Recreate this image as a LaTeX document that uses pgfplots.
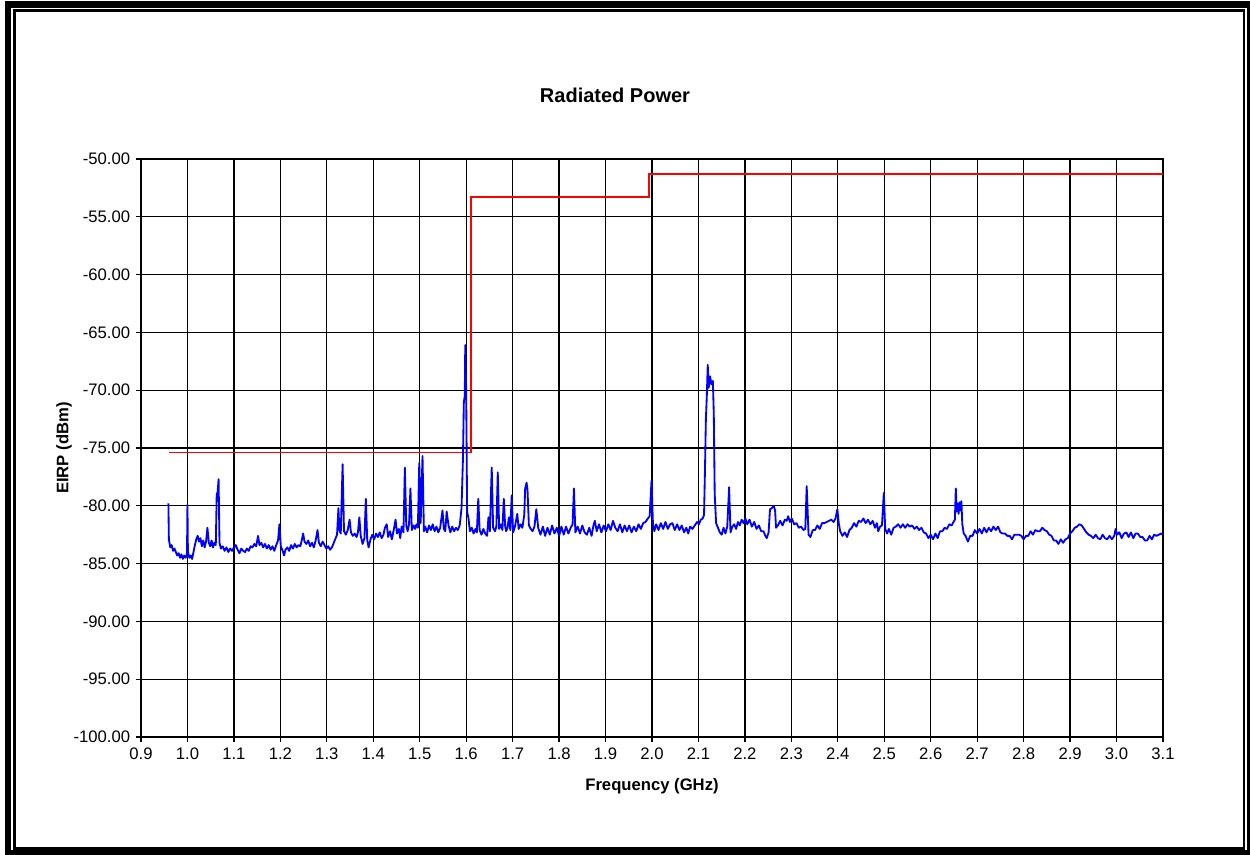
\documentclass[border=0pt]{standalone}
\usepackage{pgfplots}
\usepackage{pgfplotstable}
\pgfplotsset{compat=1.18}
\usepackage{fontspec}
\setmainfont{Liberation Sans}

% measured EIRP trace (GHz, dBm)
\pgfplotstableread{
x y
0.959 -79.8
0.960 -82.9
0.963 -83.6
0.966 -83.4
0.969 -83.9
0.972 -83.7
0.975 -84.0
0.978 -84.3
0.981 -84.1
0.984 -84.5
0.987 -84.2
0.990 -84.6
0.993 -84.3
0.996 -84.5
0.999 -84.2
1.000 -79.9
1.001 -84.0
1.004 -84.5
1.007 -84.3
1.010 -84.6
1.013 -84.0
1.016 -83.4
1.019 -82.9
1.022 -82.6
1.025 -83.1
1.028 -82.8
1.031 -83.5
1.034 -83.0
1.037 -83.6
1.040 -83.1
1.043 -81.9
1.046 -83.2
1.049 -83.5
1.052 -83.0
1.055 -83.6
1.058 -83.2
1.061 -83.4
1.063 -79.0
1.065 -78.8
1.067 -77.7
1.069 -83.2
1.072 -83.7
1.076 -83.5
1.080 -83.9
1.084 -83.6
1.088 -84.0
1.092 -83.7
1.096 -83.9
1.100 -83.6
1.104 -83.4
1.108 -83.8
1.112 -84.1
1.116 -83.7
1.120 -83.9
1.124 -84.0
1.128 -83.7
1.132 -83.9
1.136 -83.5
1.140 -83.6
1.144 -83.3
1.148 -83.5
1.152 -82.6
1.155 -83.4
1.159 -83.2
1.163 -83.6
1.167 -83.3
1.171 -83.7
1.175 -83.4
1.179 -83.8
1.183 -83.5
1.187 -83.9
1.191 -83.4
1.195 -83.0
1.198 -81.6
1.201 -83.5
1.205 -83.9
1.208 -84.3
1.211 -83.8
1.215 -83.6
1.219 -83.9
1.223 -83.4
1.227 -83.7
1.231 -83.3
1.235 -83.6
1.239 -83.4
1.243 -83.5
1.246 -83.0
1.249 -82.4
1.252 -83.1
1.256 -83.3
1.260 -83.0
1.264 -83.5
1.268 -83.2
1.272 -83.6
1.276 -83.0
1.280 -82.1
1.283 -83.2
1.287 -83.5
1.291 -83.1
1.295 -83.4
1.299 -83.7
1.303 -83.5
1.307 -83.8
1.311 -83.6
1.315 -83.2
1.319 -82.8
1.322 -82.5
1.325 -80.2
1.327 -82.1
1.330 -82.4
1.334 -76.4
1.337 -82.2
1.341 -82.5
1.345 -82.1
1.349 -81.2
1.352 -82.3
1.356 -82.6
1.360 -82.4
1.364 -82.7
1.367 -82.3
1.370 -81.0
1.373 -82.6
1.377 -83.3
1.381 -82.8
1.384 -79.4
1.387 -83.0
1.390 -83.6
1.394 -82.9
1.398 -82.5
1.402 -82.9
1.406 -82.4
1.410 -82.7
1.414 -82.3
1.418 -82.8
1.422 -82.5
1.425 -81.9
1.429 -81.6
1.432 -82.7
1.436 -82.2
1.440 -82.9
1.444 -82.1
1.448 -81.2
1.451 -82.4
1.455 -82.0
1.458 -82.8
1.461 -81.8
1.465 -82.3
1.468 -76.7
1.471 -81.7
1.474 -82.2
1.477 -81.6
1.480 -78.5
1.483 -82.1
1.487 -81.7
1.490 -82.0
1.493 -81.6
1.496 -81.9
1.499 -76.3
1.502 -81.5
1.506 -75.7
1.509 -82.2
1.512 -81.8
1.516 -82.3
1.520 -81.7
1.524 -82.1
1.528 -81.6
1.532 -82.2
1.536 -81.8
1.540 -82.3
1.544 -81.9
1.549 -80.4
1.552 -82.0
1.555 -82.2
1.558 -80.5
1.562 -81.7
1.566 -82.3
1.570 -81.8
1.574 -82.2
1.578 -81.9
1.582 -82.1
1.586 -81.7
1.590 -80.2
1.593 -76.0
1.595 -71.0
1.597 -70.5
1.598 -66.1
1.600 -70.0
1.602 -80.5
1.605 -81.1
1.608 -82.2
1.612 -81.9
1.616 -82.4
1.620 -82.0
1.623 -82.3
1.626 -79.4
1.629 -82.1
1.633 -82.5
1.637 -82.0
1.641 -82.4
1.645 -82.6
1.648 -81.0
1.651 -82.2
1.655 -76.7
1.658 -81.9
1.662 -82.2
1.665 -81.8
1.668 -77.1
1.671 -82.0
1.675 -81.6
1.678 -82.1
1.681 -79.4
1.684 -81.8
1.686 -82.2
1.689 -81.9
1.692 -81.0
1.695 -82.1
1.698 -79.1
1.701 -82.3
1.705 -81.8
1.710 -80.7
1.713 -82.0
1.717 -81.6
1.721 -81.9
1.725 -80.8
1.727 -78.5
1.730 -78.0
1.732 -78.6
1.735 -81.7
1.739 -82.0
1.743 -82.2
1.747 -81.8
1.751 -80.3
1.755 -81.9
1.760 -82.5
1.765 -81.8
1.770 -82.6
1.775 -81.9
1.780 -82.5
1.785 -81.7
1.790 -82.4
1.795 -81.9
1.800 -82.6
1.805 -81.8
1.810 -82.5
1.815 -81.8
1.820 -82.4
1.825 -81.9
1.829 -81.6
1.832 -78.5
1.835 -82.3
1.840 -81.8
1.845 -82.4
1.850 -81.7
1.855 -82.3
1.860 -82.5
1.865 -81.9
1.870 -82.6
1.874 -81.7
1.877 -81.3
1.881 -82.2
1.886 -81.6
1.891 -82.3
1.896 -81.7
1.901 -82.2
1.906 -81.6
1.911 -82.1
1.916 -81.3
1.921 -81.9
1.926 -82.2
1.931 -81.6
1.936 -82.3
1.941 -81.7
1.946 -82.2
1.951 -81.7
1.956 -82.3
1.961 -81.8
1.966 -82.2
1.971 -81.6
1.976 -82.0
1.981 -81.5
1.986 -81.4
1.991 -81.1
1.995 -80.9
1.999 -77.8
2.002 -81.5
2.005 -82.2
2.009 -81.6
2.014 -82.1
2.019 -81.5
2.024 -82.0
2.029 -81.4
2.034 -82.0
2.039 -81.6
2.044 -81.5
2.049 -82.1
2.054 -81.6
2.059 -82.1
2.064 -81.7
2.069 -82.3
2.074 -81.9
2.078 -82.4
2.082 -81.8
2.087 -82.0
2.092 -81.7
2.097 -81.4
2.101 -81.6
2.105 -81.2
2.109 -81.1
2.112 -80.8
2.114 -77.0
2.116 -72.5
2.118 -70.5
2.120 -67.8
2.122 -69.8
2.125 -68.8
2.128 -69.5
2.131 -69.2
2.133 -72.0
2.135 -79.0
2.138 -81.5
2.142 -81.9
2.146 -82.3
2.150 -82.5
2.154 -81.9
2.158 -82.4
2.162 -81.8
2.166 -78.4
2.169 -82.3
2.173 -81.8
2.177 -81.6
2.181 -82.0
2.185 -81.4
2.189 -81.7
2.193 -81.2
2.197 -81.5
2.201 -81.1
2.205 -81.6
2.210 -81.2
2.215 -81.8
2.220 -81.4
2.225 -82.0
2.230 -81.7
2.235 -82.2
2.240 -82.2
2.244 -82.6
2.247 -82.8
2.251 -82.3
2.254 -80.3
2.258 -80.2
2.262 -80.0
2.265 -80.4
2.267 -81.9
2.271 -81.7
2.276 -81.3
2.281 -81.7
2.286 -81.2
2.290 -81.3
2.293 -80.9
2.297 -81.4
2.301 -81.1
2.306 -81.6
2.311 -81.5
2.316 -81.9
2.321 -81.8
2.326 -82.1
2.330 -82.0
2.333 -78.3
2.337 -82.5
2.341 -82.7
2.346 -82.1
2.351 -82.1
2.356 -81.7
2.361 -82.0
2.366 -81.5
2.371 -81.5
2.376 -81.4
2.381 -81.3
2.386 -81.2
2.391 -81.4
2.395 -81.1
2.399 -80.3
2.402 -81.5
2.405 -82.2
2.410 -82.6
2.415 -82.3
2.420 -82.7
2.425 -82.1
2.430 -81.9
2.435 -81.5
2.440 -81.8
2.445 -81.3
2.450 -81.4
2.455 -81.1
2.460 -81.5
2.465 -81.2
2.470 -81.6
2.475 -81.3
2.480 -81.9
2.484 -81.5
2.487 -82.2
2.491 -81.8
2.495 -81.7
2.499 -78.9
2.502 -82.0
2.506 -82.4
2.510 -82.0
2.515 -82.5
2.520 -81.9
2.525 -81.8
2.530 -81.6
2.535 -81.9
2.540 -81.6
2.545 -81.9
2.550 -81.6
2.555 -81.8
2.560 -81.7
2.565 -82.0
2.570 -81.8
2.575 -82.1
2.580 -81.9
2.585 -82.3
2.590 -82.4
2.595 -82.8
2.600 -82.5
2.605 -82.9
2.610 -82.4
2.615 -82.8
2.620 -82.2
2.625 -82.2
2.630 -81.9
2.635 -82.0
2.640 -81.6
2.645 -81.7
2.649 -81.4
2.652 -81.2
2.654 -78.5
2.656 -80.5
2.658 -79.8
2.660 -80.7
2.662 -79.7
2.664 -80.4
2.666 -79.6
2.668 -81.6
2.671 -82.4
2.675 -82.6
2.680 -83.1
2.685 -82.6
2.690 -82.6
2.695 -82.1
2.700 -82.4
2.705 -82.0
2.710 -82.4
2.715 -81.9
2.720 -82.3
2.725 -81.9
2.730 -82.2
2.735 -81.8
2.740 -82.1
2.745 -81.8
2.750 -82.3
2.755 -82.4
2.760 -82.4
2.765 -82.6
2.770 -82.6
2.775 -82.9
2.780 -82.5
2.785 -82.5
2.790 -82.5
2.795 -82.6
2.800 -82.9
2.805 -82.6
2.810 -82.6
2.815 -82.2
2.820 -82.5
2.825 -82.1
2.830 -82.2
2.835 -82.2
2.840 -81.9
2.845 -82.1
2.850 -82.2
2.855 -82.5
2.860 -82.6
2.865 -83.0
2.870 -83.0
2.875 -83.3
2.880 -82.9
2.885 -83.2
2.890 -82.9
2.895 -82.8
2.900 -82.4
2.905 -82.2
2.910 -81.9
2.915 -81.8
2.920 -81.6
2.925 -81.7
2.930 -82.0
2.935 -82.3
2.940 -82.5
2.945 -82.6
2.950 -82.8
2.955 -82.5
2.960 -82.8
2.965 -82.9
2.970 -82.5
2.975 -82.8
2.980 -82.9
2.985 -82.6
2.990 -82.9
2.995 -82.6
2.998 -82.0
3.001 -82.5
3.006 -82.3
3.011 -82.8
3.016 -82.4
3.021 -82.3
3.026 -82.7
3.031 -82.3
3.036 -82.8
3.041 -82.4
3.046 -82.4
3.051 -82.7
3.056 -82.7
3.061 -83.0
3.066 -83.0
3.071 -82.6
3.076 -82.9
3.081 -82.5
3.086 -82.6
3.091 -82.5
3.096 -82.4
3.100 -82.5
}\spectrum

% limit line
\pgfplotstableread{
x y
0.960 -75.4
1.610 -75.4
1.610 -53.3
1.994 -53.3
1.994 -51.3
3.100 -51.3
}\limitline

\begin{document}
\begin{tikzpicture}
\clip (-84.6pt,-70.8pt) rectangle (665.4pt,442.2pt);
\fill[white] (-84.6pt,-70.8pt) rectangle (665.4pt,442.2pt);
% double frame
\draw[black, line width=3.8pt] (-79.6pt,-70.0pt) rectangle (665.2pt,439.5pt);
\draw[black, line width=1.4pt] (-75.9pt,-67.0pt) rectangle (661.7pt,435.9pt);
\begin{axis}[
    at={(0,0)}, anchor=south west,
    scale only axis,
    width=613.2pt, height=346.8pt,
    xmin=0.9, xmax=3.1,
    ymin=-100, ymax=-50,
    xtick={0.9,1.0,1.1,1.2,1.3,1.4,1.5,1.6,1.7,1.8,1.9,2.0,2.1,2.2,2.3,2.4,2.5,2.6,2.7,2.8,2.9,3.0,3.1},
    ytick={-100,-95,-90,-85,-80,-75,-70,-65,-60,-55,-50},
    xticklabel style={/pgf/number format/.cd, fixed, fixed zerofill, precision=1},
    yticklabel style={/pgf/number format/.cd, fixed, fixed zerofill, precision=2},
    /pgf/number format/assume math mode=true,
    tick label style={font=\fontsize{10}{12}\selectfont},
    xtick pos=left, ytick pos=left,
    tick align=outside,
    major tick length=3pt,
    tick style={black, line width=0.8pt},
    grid=major,
    major grid style={black, line width=0.8pt},
    axis line style={black, line width=0.9pt},
    title={Radiated Power},
    title style={font=\bfseries\fontsize{12}{14}\selectfont, at={([xshift=-22.2pt,yshift=32.4pt]axis description cs:0.5,1)}, anchor=center},
    xlabel={Frequency (GHz)},
    xlabel style={font=\bfseries\fontsize{10}{12}\selectfont, at={([yshift=-29.4pt]axis description cs:0.5,0)}, anchor=center},
    ylabel={EIRP (dBm)},
    ylabel style={font=\bfseries\fontsize{10}{12}\selectfont, at={([xshift=-46.2pt]axis description cs:0,0.5)}, anchor=center},
]
\addplot[color={rgb,255:red,255;green,0;blue,0}, line width=0.9pt, line join=miter] table[x=x,y=y] {\limitline};
\addplot[color={rgb,255:red,0;green,0;blue,255}, line width=1.1pt, line join=round] table[x=x,y=y] {\spectrum};
\end{axis}
\end{tikzpicture}
\end{document}
